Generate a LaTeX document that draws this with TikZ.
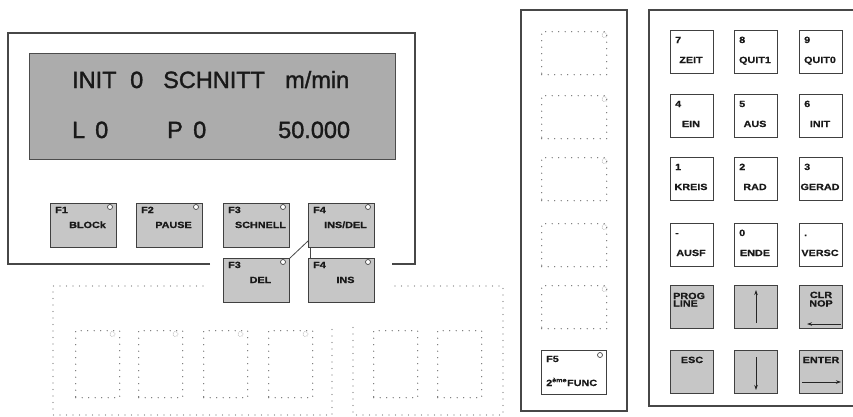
\documentclass[tikz,border=0pt]{standalone}
\usepackage{fontspec}
\setmainfont{Liberation Sans}
\newfontfamily\keyfont{Liberation Sans}[FakeStretch=1.2, BoldFeatures={FakeBold=0.6}]
\newfontfamily\lcdfont{Liberation Sans}[UprightFeatures={FakeBold=1.4}]
\usetikzlibrary{calc,arrows.meta}
\tikzset{
 frame/.style={draw=black!72, line width=1.1pt},
 dotline/.style={draw=black!55, line width=1.4pt, dash pattern=on 0pt off 6.5pt, line cap=round},
 lcdbox/.style={draw=black!70, line width=1pt, fill=gray!65, anchor=north west, minimum width=366pt, minimum height=106pt, inner sep=0},
 keybase/.style={draw=black!75, line width=1pt, anchor=north west, inner sep=0},
 gkey/.style={keybase, fill=gray!45},
 wkey/.style={keybase, fill=white},
 dkey/.style={dotline, anchor=north west, inner sep=0},
 lcdtxt/.style={font=\lcdfont\fontsize{23.5}{24}\selectfont, anchor=base west, inner sep=0, text=black!90},
 ktxt/.style={font=\keyfont\bfseries\fontsize{9}{9}\selectfont, inner sep=0, text=black!90},
 led/.style={circle, draw=black!72, fill=white, line width=0.7pt, minimum size=5pt, inner sep=0},
 ledd/.style={circle, draw=black!55, line width=0.9pt, dash pattern=on 0pt off 2.2pt, line cap=round, minimum size=5pt, inner sep=0},
 conn/.style={draw=black!72, line width=0.8pt},
 arr/.style={draw=black!85, line width=0.8pt, -{Stealth[length=5pt,width=3.5pt]}},
}
\newcommand\fnkey[5]{%
 \node[gkey, minimum width=66pt, minimum height=44pt] (#1) at (#2,#3) {};
 \node[ktxt, anchor=base west] (#1t) at ($(#1.north west)+(5,10)$) {#4};
 \node[ktxt, anchor=base] (#1b) at ($(#1.north)+(4,25)$) {#5};
 \node[led] (#1l) at ($(#1.north east)+(-7,4)$) {};
}
\newcommand\kpkey[6]{%
 \node[#2, minimum width=43pt, minimum height=43pt] (#1) at (#3,#4) {};
 \node[ktxt, anchor=base west] (#1t) at ($(#1.north west)+(5,13)$) {#5};
 \node[ktxt, anchor=base] (#1b) at ($(#1.north)+(-1,33)$) {#6};
}
\begin{document}
\begin{tikzpicture}[x=1pt,y=-1pt]
\useasboundingbox (0,0) rectangle (853,416);
\fill[white] (0,0) rectangle (853,416);
% ---------- display panel ----------
\draw[frame] (210,264) -| (8,33) -| (415,264) -- (392,264);
\node[lcdbox] (lcd) at (29,53) {};
\node[lcdtxt] (t1) at (72,88) {INIT};
\node[lcdtxt] (t2) at (130,88) {0};
\node[lcdtxt] (t3) at (163,88) {SCHNITT};
\node[lcdtxt] (t4) at (285,88) {m/min};
\node[lcdtxt] (t5) at (72,138) {L};
\node[lcdtxt] (t6) at (95,138) {0};
\node[lcdtxt] (t7) at (167,138) {P};
\node[lcdtxt] (t8) at (193,138) {0};
\node[lcdtxt] (t9) at (278,138) {50.000};
\fnkey{f1}{50}{203}{F1}{BLOCk}
\fnkey{f2}{136}{203}{F2}{PAUSE}
\fnkey{f3}{223}{203}{F3}{SCHNELL}
\fnkey{f4}{308}{203}{F4}{INS/DEL}
\fnkey{f3b}{223}{258}{F3}{DEL}
\fnkey{f4b}{308}{258}{F4}{INS}
\draw[conn] ([yshift=7pt]f4.south west) -- (f3b.north east);
\draw[conn] ([xshift=2pt]f4.south west) -- ([xshift=2pt]f4b.north west);
% ---------- dotted area below ----------
\draw[dotline] (203,286) -- (53,286) -- (53,415) -- (332,415) -- (332,327);
\draw[dotline] (395,286) -- (503,286) -- (503,415) -- (353,415) -- (353,327);
\node[dkey, minimum width=44pt, minimum height=67pt] (b1) at (75,330) {};
\node[dkey, minimum width=44pt, minimum height=67pt] (b2) at (138,330) {};
\node[dkey, minimum width=44pt, minimum height=67pt] (b3) at (203,330) {};
\node[dkey, minimum width=44pt, minimum height=67pt] (b4) at (268,330) {};
\node[dkey, minimum width=44pt, minimum height=67pt] (b5) at (373,330) {};
\node[dkey, minimum width=44pt, minimum height=67pt] (b6) at (437,330) {};
\foreach \b in {b1,b2,b3,b4}{\node[ledd] (\b l) at ($(\b.north east)+(-8,4)$) {};}
% ---------- middle panel ----------
\draw[frame] (521,10) rectangle (627,411);
\node[dkey, minimum width=65pt, minimum height=43pt] (m1) at (541,31) {};
\node[dkey, minimum width=65pt, minimum height=43pt] (m2) at (541,95) {};
\node[dkey, minimum width=65pt, minimum height=43pt] (m3) at (541,157) {};
\node[dkey, minimum width=65pt, minimum height=43pt] (m4) at (541,223) {};
\node[dkey, minimum width=65pt, minimum height=43pt] (m5) at (541,285) {};
\foreach \m in {m1,m2,m3,m4,m5}{\node[ledd] (\m l) at ($(\m.north east)+(-3,4)$) {};}
\node[wkey, minimum width=65pt, minimum height=44pt] (f5) at (541,350) {};
\node[ktxt, anchor=base west] (f5t) at ($(f5.north west)+(5,12)$) {F5};
\node[ktxt, anchor=base west] (f5b) at ($(f5.north west)+(5,36)$) {2\textsuperscript{ème}FUNC};
\node[led] (f5l) at ($(f5.north east)+(-7,5)$) {};
% ---------- keypad ----------
\draw[frame] (860,10) -| (649,406) -- (860,406);
\kpkey{k7}{wkey}{670}{30}{7}{ZEIT}
\kpkey{k8}{wkey}{734}{30}{8}{QUIT1}
\kpkey{k9}{wkey}{799}{30}{9}{QUIT0}
\kpkey{k4}{wkey}{670}{94}{4}{EIN}
\kpkey{k5}{wkey}{734}{94}{5}{AUS}
\kpkey{k6}{wkey}{799}{94}{6}{INIT}
\kpkey{k1}{wkey}{670}{157}{1}{KREIS}
\kpkey{k2}{wkey}{734}{157}{2}{RAD}
\kpkey{k3}{wkey}{799}{157}{3}{GERAD}
\kpkey{km}{wkey}{670}{223}{-}{AUSF}
\kpkey{k0}{wkey}{734}{223}{0}{ENDE}
\kpkey{kp}{wkey}{799}{223}{.}{VERSC}
\node[gkey, minimum width=43pt, minimum height=43pt] (prog) at (670,285) {};
\node[ktxt, anchor=base west] (progt) at ($(prog.north west)+(3,14)$) {PROG};
\node[ktxt, anchor=base west] (progb) at ($(prog.north west)+(3,21.5)$) {LINE};
\node[gkey, minimum width=43pt, minimum height=43pt] (up) at (734,285) {};
\draw[arr] ($(up.south)+(0,-6)$) -- ($(up.north)+(0,5)$);
\node[gkey, minimum width=43pt, minimum height=43pt] (clr) at (799,285) {};
\node[ktxt, anchor=base] (clrt) at ($(clr.north)+(0,13)$) {CLR};
\node[ktxt, anchor=base] (clrb) at ($(clr.north)+(0,21.5)$) {NOP};
\draw[arr] ($(clr.south east)+(-2,-5)$) -- ($(clr.south west)+(8,-5)$);
\node[gkey, minimum width=43pt, minimum height=43pt] (esc) at (670,350) {};
\node[ktxt, anchor=base] (esct) at ($(esc.north)+(0,13)$) {ESC};
\node[gkey, minimum width=43pt, minimum height=43pt] (down) at (734,350) {};
\draw[arr] ($(down.north)+(0,7)$) -- ($(down.south)+(0,-4)$);
\node[gkey, minimum width=43pt, minimum height=43pt] (ent) at (799,350) {};
\node[ktxt, anchor=base] (entt) at ($(ent.north)+(0,13)$) {ENTER};
\draw[arr] ($(ent.west)+(3,10)$) -- ($(ent.east)+(-2,10)$);
\end{tikzpicture}
\end{document}
